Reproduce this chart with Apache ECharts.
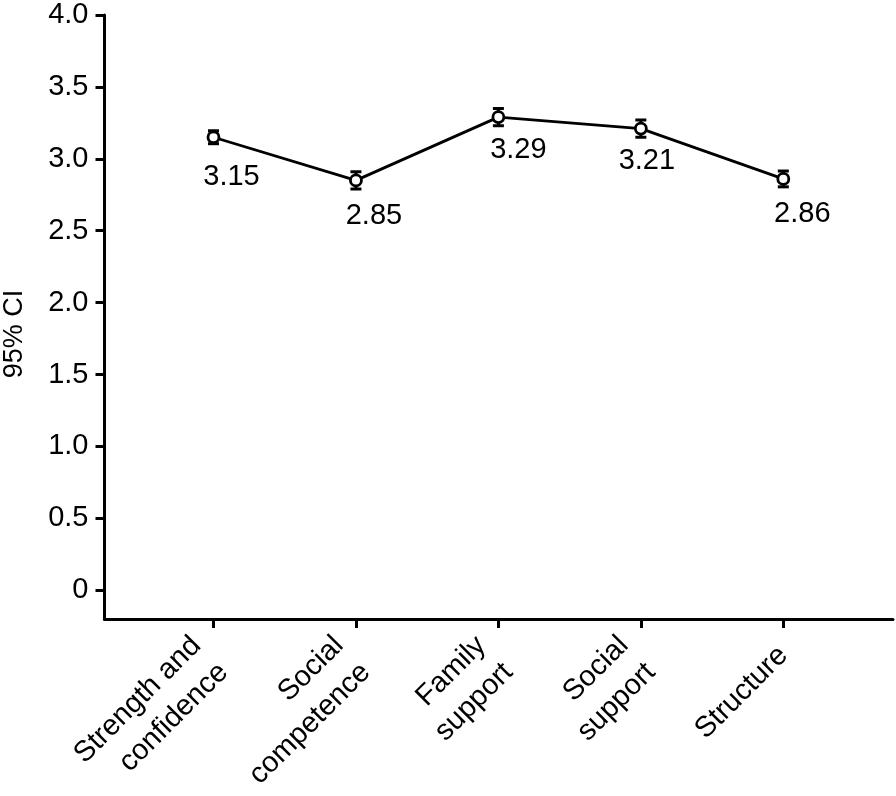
<!DOCTYPE html>
<html>
<head>
<meta charset="utf-8">
<script src="https://cdn.jsdelivr.net/npm/echarts@6/dist/echarts.min.js"></script>
<style>html,body{margin:0;padding:0;background:#fff;}#c{width:896px;height:796px;}</style>
</head>
<body>
<div id="c"></div>
<script>
var categories = ['Strength and\nconfidence', 'Social\ncompetence', 'Family\nsupport', 'Social\nsupport', 'Structure'];
var means = [3.15, 2.85, 3.29, 3.21, 2.86];
var ciHalf = [0.045, 0.06, 0.06, 0.06, 0.055];
var yTicks = [0, 0.5, 1.0, 1.5, 2.0, 2.5, 3.0, 3.5, 4.0];
var catIdx = categories.map(function (c, i) { return i; });

// label placement (style only)
var labelDx = [18, 18, 20, 6, 19];
var labelDy = [13, 9, 6, 6, 9];

var FONT = '"Liberation Sans", Arial, sans-serif';
var FS = 29;
var lineData = means.map(function (v, i) {
  return { value: [i, v], label: { offset: [labelDx[i], labelDy[i]] } };
});
var errData = means.map(function (v, i) { return [i, v - ciHalf[i], v + ciHalf[i]]; });

var chart = echarts.init(document.getElementById('c'));
chart.setOption({
  backgroundColor: '#fff',
  animation: false,
  grid: { left: 104.5, right: 3, top: 15, bottom: 177, containLabel: false, outerBoundsMode: 'none' },
  xAxis: {
    type: 'value', min: -0.765, max: 4.77,
    splitLine: { show: false },
    axisLine: { show: true, onZero: false, lineStyle: { color: '#000', width: 3 } },
    axisTick: { show: true, customValues: catIdx, length: 9, lineStyle: { color: '#000', width: 3 } },
    axisLabel: {
      show: true, customValues: catIdx, rotate: 45, margin: 32,
      fontSize: FS, lineHeight: 38, color: '#000', fontFamily: FONT,
      formatter: function (v) {
        var s = categories[Math.round(v)];
        if (s.indexOf('\n') < 0) return s;
        return s.split('\n').map(function (t) { return '{m|' + t + '}'; }).join('\n');
      },
      rich: { m: { fontSize: FS, lineHeight: 38, color: '#000', fontFamily: FONT, padding: [0, 5, 0, 0] } }
    }
  },
  yAxis: {
    type: 'value', min: -0.2, max: 4,
    name: '95% CI', nameLocation: 'middle', nameGap: 76, nameRotate: 90,
    nameTextStyle: { fontSize: 27, color: '#000', fontFamily: FONT, padding: [0, 34, 0, 0] },
    splitLine: { show: false },
    axisLine: { show: true, onZero: false, lineStyle: { color: '#000', width: 3 } },
    axisTick: { show: true, customValues: yTicks, length: 9, lineStyle: { color: '#000', width: 3 } },
    axisLabel: {
      show: true, customValues: yTicks, margin: 16,
      fontSize: FS, color: '#000', fontFamily: FONT,
      formatter: function (v) { return v === 0 ? '0' : v.toFixed(1); }
    }
  },
  series: [
    {
      type: 'custom', z: 1,
      data: errData,
      renderItem: function (params, api) {
        var x = api.value(0);
        var lo = api.coord([x, api.value(1)]);
        var hi = api.coord([x, api.value(2)]);
        var w = 5.5;
        var st = { stroke: '#000', lineWidth: 3 };
        return {
          type: 'group',
          children: [
            { type: 'line', shape: { x1: lo[0], y1: lo[1], x2: hi[0], y2: hi[1] }, style: st },
            { type: 'line', shape: { x1: lo[0] - w, y1: lo[1], x2: lo[0] + w, y2: lo[1] }, style: st },
            { type: 'line', shape: { x1: hi[0] - w, y1: hi[1], x2: hi[0] + w, y2: hi[1] }, style: st }
          ]
        };
      }
    },
    {
      type: 'line', z: 2,
      data: lineData,
      symbol: 'circle', symbolSize: 11,
      lineStyle: { color: '#000', width: 2.8 },
      itemStyle: { color: '#fff', borderColor: '#000', borderWidth: 2.8 },
      label: {
        show: true, position: 'bottom',
        fontSize: FS, color: '#000', fontFamily: FONT,
        formatter: function (p) { return p.value[1].toFixed(2); }
      }
    }
  ]
});
</script>
</body>
</html>
